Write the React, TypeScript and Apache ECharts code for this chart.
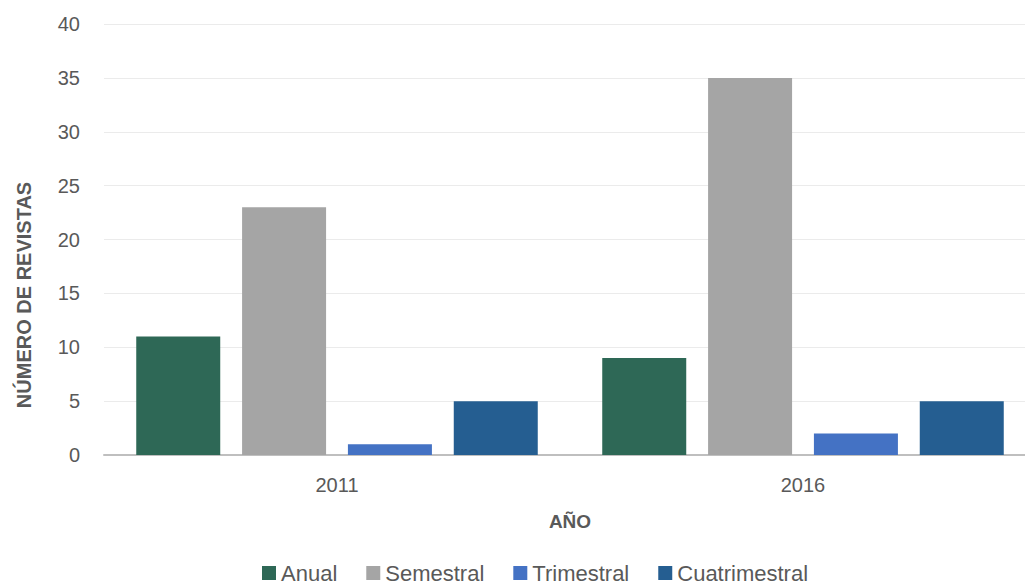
import React, { useEffect, useRef } from "react";
import * as echarts from "echarts";

const categories = ["2011", "2016"];
const anual = [11, 9];
const semestral = [23, 35];
const trimestral = [1, 2];
const cuatrimestral = [5, 5];
const seriesNames = ["Anual", "Semestral", "Trimestral", "Cuatrimestral"];
const colors = ["#2E6856", "#A5A5A5", "#4472C4", "#255E91"];

const FONT = "Liberation Sans";
const CHART_W = 1040;

export default function App() {
  const ref = useRef<HTMLDivElement>(null);
  useEffect(() => {
    if (!ref.current) return;
    const chart = echarts.init(ref.current, null, { renderer: "svg" });
    const data = [anual, semestral, trimestral, cuatrimestral];
    chart.setOption({
      animation: false,
      textStyle: { fontFamily: FONT },
      grid: { left: 104, right: CHART_W - 1036, top: 24, bottom: 129, containLabel: false },
      legend: {
        top: 562,
        left: 262,
        itemWidth: 14,
        itemHeight: 14,
        itemGap: 29,
        padding: 0,
        icon: "rect",
        textStyle: { fontSize: 22, color: "#595959", fontFamily: FONT },
        data: seriesNames,
      },
      xAxis: {
        type: "category",
        data: categories,
        axisTick: { show: false },
        axisLine: { lineStyle: { color: "#BFBFBF", width: 2 } },
        axisLabel: { fontSize: 20, color: "#595959", margin: 20 },
        name: "AÑO",
        nameLocation: "middle",
        nameGap: 57,
        nameTextStyle: { fontSize: 19, fontWeight: "bold", color: "#595959" },
      },
      yAxis: {
        type: "value",
        min: 0,
        max: 40,
        interval: 5,
        axisLine: { show: false },
        axisTick: { show: false },
        splitLine: { lineStyle: { color: "#EBEBEB", width: 1 } },
        axisLabel: { fontSize: 20, color: "#595959", margin: 24 },
      },
      graphic: [
        {
          type: "text",
          x: 24,
          y: 295,
          rotation: Math.PI / 2,
          style: {
            text: "NÚMERO DE REVISTAS",
            font: `bold 20px ${FONT}`,
            fill: "#595959",
            textAlign: "center",
            textVerticalAlign: "middle",
          },
        },
      ],
      series: seriesNames.map((n, i) => ({
        name: n,
        type: "bar",
        data: data[i],
        barWidth: 84,
        barGap: "26%",
        itemStyle: { color: colors[i] },
      })),
    });
    return () => chart.dispose();
  }, []);
  return (
    <div style={{ width: 1025, height: 584, position: "absolute", left: 0, top: 0, overflow: "hidden" }}>
      <div ref={ref} style={{ width: CHART_W, height: 584 }} />
    </div>
  );
}
